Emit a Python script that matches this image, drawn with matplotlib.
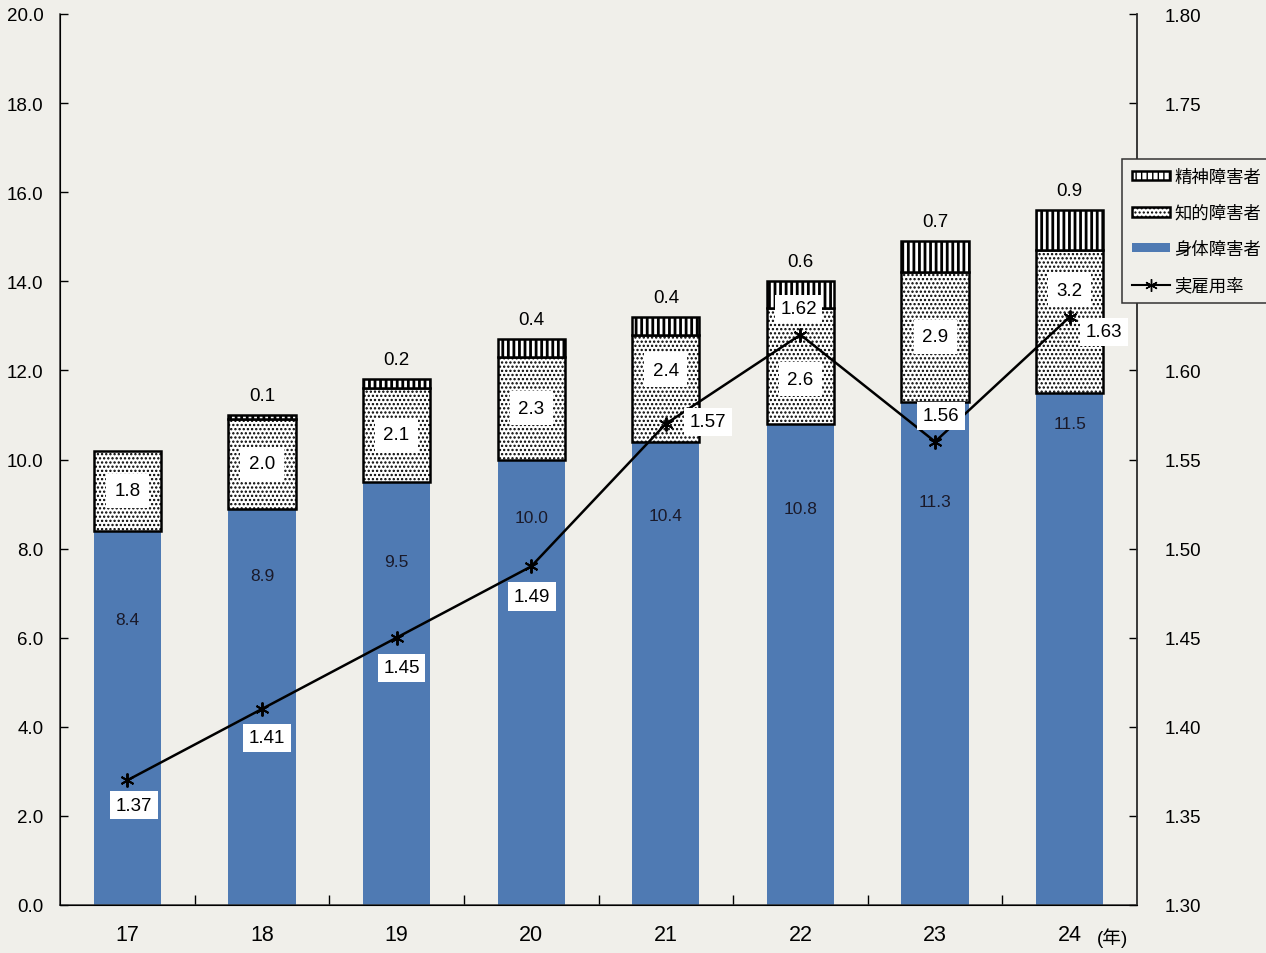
import matplotlib.pyplot as plt
import numpy as np
from matplotlib.lines import Line2D
from matplotlib.patches import Patch

plt.rcParams['font.family'] = ['Liberation Sans', 'Noto Sans CJK JP']

# 年度ごとの雇用障害者数（万人）と実雇用率（%）
years = ['17', '18', '19', '20', '21', '22', '23', '24']
shintai = [8.4, 8.9, 9.5, 10.0, 10.4, 10.8, 11.3, 11.5]
chiteki = [1.8, 2.0, 2.1, 2.3, 2.4, 2.6, 2.9, 3.2]
seishin = [0.0, 0.1, 0.2, 0.4, 0.4, 0.6, 0.7, 0.9]
rate = [1.37, 1.41, 1.45, 1.49, 1.57, 1.62, 1.56, 1.63]

# ラベル位置の調整（縦軸の値）
shintai_label_y = [6.4, 7.4, 7.7, 8.7, 8.75, 8.9, 9.05, 10.8]
chiteki_label_y = [9.3, 9.9, 10.55, 11.15, 12.0, 11.8, 12.75, 13.8]
rate_offset = [(7, -25), (5, -29), (5, -30), (1, -30), (42, 2), (-2, 26), (6, 26), (34, -15)]

blue = '#4f7ab3'
bg = '#f0efea'
dot_hatch = '....'
stripe_hatch = '|||'

x = np.arange(len(years))
w = 0.5

fig = plt.figure(figsize=(12.66, 9.54), dpi=100, facecolor=bg)
ax = fig.add_axes([60 / 1266, 48 / 954, 1077 / 1266, 891 / 954])
ax.set_facecolor(bg)

ax.bar(x, shintai, w, color=blue, edgecolor='none', zorder=2)
chi_bottom = np.array(shintai)
with plt.rc_context({'hatch.linewidth': 1.1}):
    ax.bar(x, chiteki, w, bottom=chi_bottom, color='white', edgecolor='black',
           hatch=dot_hatch, linewidth=1.8, zorder=2)
    h_dot = Patch(facecolor='white', edgecolor='black', hatch=dot_hatch, linewidth=1.8)
sei_bottom = chi_bottom + np.array(chiteki)
with plt.rc_context({'hatch.linewidth': 2.0}):
    for i in range(len(years)):
        if seishin[i] > 0:
            ax.bar(x[i], seishin[i], w, bottom=sei_bottom[i], color='white', edgecolor='black',
                   hatch=stripe_hatch, linewidth=1.8, zorder=2)
    h_stripe = Patch(facecolor='white', edgecolor='black', hatch=stripe_hatch, linewidth=1.8)

# 数値ラベル
for i in range(len(years)):
    ax.text(x[i], shintai_label_y[i], f'{shintai[i]:.1f}', ha='center', va='center',
            fontsize=12.5, color='#1a1a2a', zorder=5)
    ax.text(x[i], chiteki_label_y[i], f'{chiteki[i]:.1f}', ha='center', va='center',
            fontsize=13.5, zorder=5,
            bbox=dict(boxstyle='square,pad=0.45', fc='white', ec='none'))
    if seishin[i] > 0:
        ax.annotate(f'{seishin[i]:.1f}', (x[i], sei_bottom[i] + seishin[i]),
                    xytext=(0, 8), textcoords='offset points', ha='center', va='bottom',
                    fontsize=13.5, zorder=5)

ax.set_xlim(-0.5, len(years) - 0.5)
ax.set_ylim(0, 20)
ax.set_yticks(np.arange(0, 20.1, 2))
ax.set_yticklabels([f'{v:.1f}' for v in np.arange(0, 20.1, 2)], fontsize=13.5)
ax.tick_params(axis='y', direction='in', length=6, pad=12, width=1)
ax.set_xticks(x)
ax.set_xticklabels(years, fontsize=15.5)
ax.tick_params(axis='x', length=0, pad=14)
ax.set_xticks(np.arange(0.5, len(years) - 1, 1), minor=True)
ax.tick_params(axis='x', which='minor', direction='in', length=7, width=1)
ax.text(len(years) - 1 + 0.32, -0.72, '(年)', ha='center', va='center', fontsize=13.5)
ax.spines['top'].set_visible(False)
for s in ['left', 'bottom', 'right']:
    ax.spines[s].set_color('#333333')
    ax.spines[s].set_linewidth(1.1)

ax2 = ax.twinx()
ax2.set_ylim(1.30, 1.80)
rticks = np.arange(1.30, 1.801, 0.05)
ax2.set_yticks(rticks)
# 1.65 と 1.70 の目盛ラベルは凡例の下に隠れる
ax2.set_yticklabels(['' if 1.64 < v < 1.71 else f'{v:.2f}' for v in rticks], fontsize=13.5)
ax2.tick_params(axis='y', direction='in', length=6, pad=20, width=1)
ax2.spines['top'].set_visible(False)
ax2.spines['right'].set_color('#333333')
ax2.spines['right'].set_linewidth(1.1)
ax2.plot(x, rate, color='black', linewidth=1.8, marker=(6, 2, 0), markersize=10,
         markeredgewidth=1.4, zorder=4)
for i in range(len(years)):
    ax2.annotate(f'{rate[i]:.2f}', (x[i], rate[i]), xytext=rate_offset[i],
                 textcoords='offset pixels', ha='center', va='center', fontsize=13.5,
                 zorder=6, bbox=dict(boxstyle='square,pad=0.3', fc='white', ec='none'))

handles = [
    h_stripe,
    h_dot,
    Patch(facecolor=blue, edgecolor='none'),
    Line2D([], [], color='black', linewidth=1.5, marker=(6, 2, 0), markersize=9),
]
labels = ['精神障害者', '知的障害者', '身体障害者', '実雇用率']
leg = fig.legend(handles, labels, loc='upper left', bbox_to_anchor=(1122 / 1266, 1 - 160 / 954),
                 fontsize=12.5, frameon=True, fancybox=False, edgecolor='#333333',
                 framealpha=1, handlelength=2.2, handleheight=0.45, handletextpad=0.25,
                 labelspacing=1.15, borderpad=0.55, borderaxespad=0)
leg.set_zorder(10)
leg.get_frame().set_linewidth(1.1)
leg.get_frame().set_facecolor(bg)

fig.savefig('out.png', dpi=100, facecolor=bg)
